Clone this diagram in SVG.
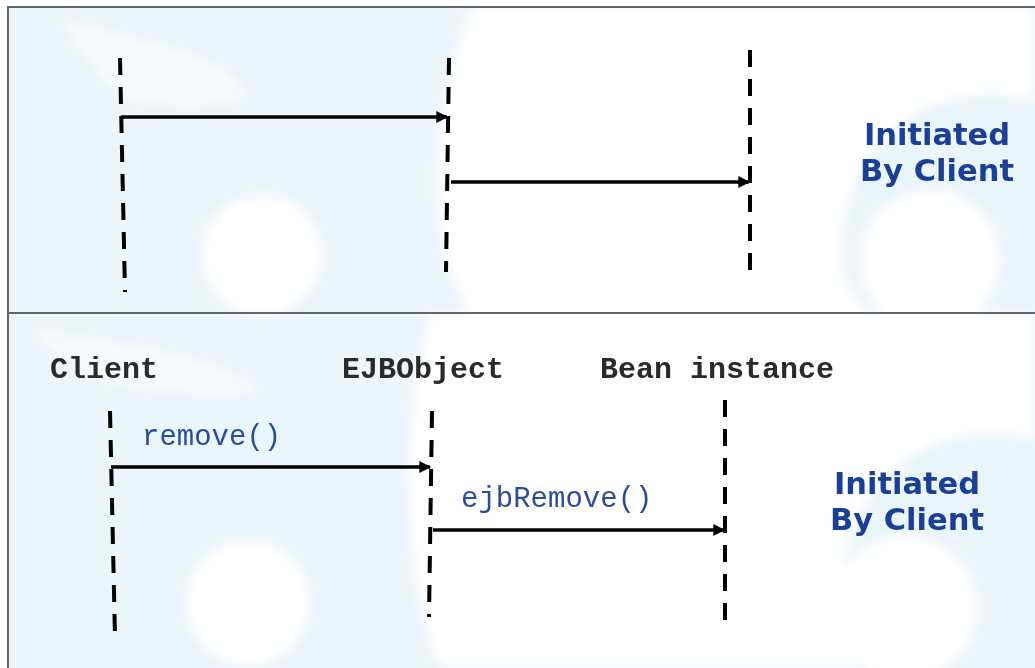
<svg xmlns="http://www.w3.org/2000/svg" width="1035" height="668" viewBox="0 0 1035 668">
<style>
.life{stroke:#000;stroke-width:4;stroke-dasharray:17 12;fill:none}
.msg{stroke:#000;stroke-width:3.5;fill:none;marker-end:url(#ah)}
.lbl{font-family:"Liberation Mono","Courier New",monospace;font-size:30px;font-weight:bold;fill:#2a2a2a}
.call{font-family:"Liberation Mono","Courier New",monospace;font-size:29px;fill:#2b4c9b}
.note{font-family:"DejaVu Sans",Verdana,sans-serif;font-size:30.5px;font-weight:bold;fill:#1a3f96;text-anchor:middle}
.bgw{fill:#fff}
</style>
<defs>
<marker id="ah" viewBox="0 0 10 10" refX="9" refY="5" markerWidth="4" markerHeight="3.4" orient="auto" markerUnits="strokeWidth">
<path d="M0,0 L10,5 L0,10 z" fill="#000"/>
</marker>
<filter id="blur" x="-20%" y="-20%" width="140%" height="140%"><feGaussianBlur stdDeviation="6"/></filter>
</defs>
<g id="background">
<rect x="0" y="0" width="1035" height="668" fill="#fff"/>
<rect x="8" y="7" width="1027" height="661" fill="#ebf5fc"/>
<g filter="url(#blur)">
<path class="bgw" d="M470,7 L1035,7 L1035,100 C960,80 880,110 850,200 C830,260 850,300 870,313 L470,313 C430,250 420,150 470,7 z"/>
<path class="bgw" d="M60,20 C150,40 230,60 245,90 C250,110 170,110 130,100 C100,80 80,50 60,20 z" opacity="0.6"/>
<circle class="bgw" cx="262" cy="255" r="60"/>
<circle class="bgw" cx="930" cy="260" r="70"/>
<path class="bgw" d="M430,313 L1035,313 L1035,440 C960,420 880,450 850,540 C830,600 850,640 870,668 L440,668 C400,580 400,420 430,313 z"/>
<path class="bgw" d="M30,330 C120,340 230,360 260,390 C240,400 150,395 100,380 C70,365 50,350 30,330 z" opacity="0.6"/>
<circle class="bgw" cx="248" cy="603" r="62"/>
<circle class="bgw" cx="905" cy="608" r="72"/>
</g>
<rect x="8" y="7" width="1040" height="306" fill="none" stroke="#666" stroke-width="2"/>
<line x1="8" y1="313" x2="8" y2="668" stroke="#666" stroke-width="2"/>
</g>
<g id="top-client"><line class="life" x1="120" y1="58" x2="125" y2="292"/></g>
<g id="top-ejbobject"><line class="life" x1="449" y1="58" x2="446" y2="272"/></g>
<g id="top-bean"><line class="life" x1="750" y1="50" x2="750" y2="282"/></g>
<g id="top-note"><text class="note" x="937" y="145">Initiated</text><text class="note" x="937" y="181">By Client</text></g>
<g id="client"><text class="lbl" x="50" y="378">Client</text><line class="life" x1="110" y1="411" x2="115" y2="637"/></g>
<g id="ejbobject"><text class="lbl" x="342" y="378">EJBObject</text><line class="life" x1="432" y1="411" x2="429" y2="617"/></g>
<g id="bean"><text class="lbl" x="600" y="378">Bean instance</text><line class="life" x1="725" y1="400" x2="725" y2="629"/></g>
<g id="bottom-note"><text class="note" x="907" y="494">Initiated</text><text class="note" x="907" y="530">By Client</text></g>
<g id="connectors">
<line class="msg" x1="121" y1="117" x2="447" y2="117"/>
<line class="msg" x1="451" y1="182" x2="749" y2="182"/>
<line class="msg" x1="111" y1="467" x2="430" y2="467"/>
<line class="msg" x1="433" y1="530" x2="724" y2="530"/>
<text class="call" x="142" y="445">remove()</text>
<text class="call" x="461" y="507">ejbRemove()</text>
</g>
</svg>
